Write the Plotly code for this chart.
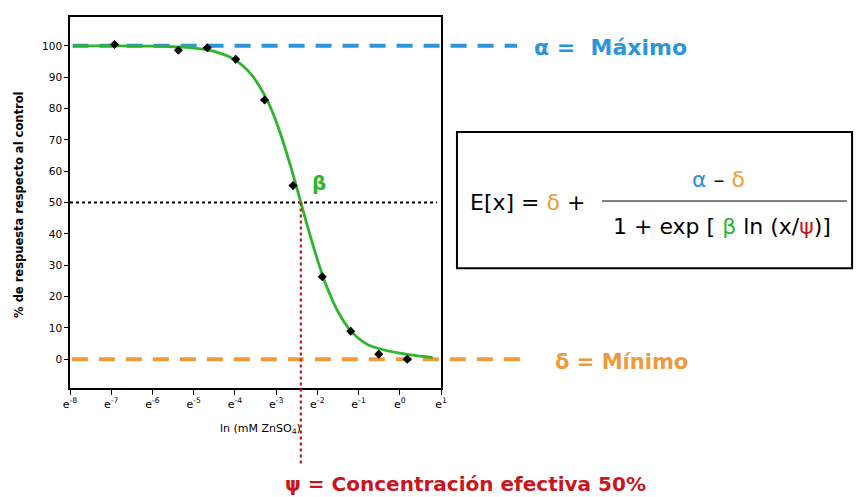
import plotly.graph_objects as go

# ---- data ----
ln_conc = [-6.92, -5.37, -4.67, -3.98, -3.28, -2.59, -1.88, -1.19, -0.51, 0.18]
response = [100.4, 98.6, 99.4, 95.7, 82.7, 55.4, 26.3, 8.9, 1.6, 0.0]

curve_x = [-7.93, -7.0, -6.0, -5.5, -5.0, -4.5, -4.0, -3.6, -3.2, -2.9, -2.6, -2.4,
           -2.2, -2.0, -1.8, -1.5, -1.2, -0.8, -0.4, 0.0, 0.4, 0.8]
curve_y = [100.0, 100.0, 99.9, 99.7, 99.3, 98.2, 95.5, 90.8, 82.2, 72.2, 59.4, 50.0,
           40.6, 31.8, 24.1, 15.2, 9.2, 4.8, 3.0, 1.9, 1.1, 0.5]

alpha_max = 100
delta_min = 0
half_resp = 50
psi_ln = -2.4

x_tick_vals = [-8, -7, -6, -5, -4, -3, -2, -1, 0, 1]
x_tick_text = ["e<sup>-8</sup>", "e<sup>-7</sup>", "e<sup>-6</sup>", "e<sup>-5</sup>",
               "e<sup>-4</sup>", "e<sup>-3</sup>", "e<sup>-2</sup>", "e<sup>-1</sup>",
               "e<sup>0</sup>", "e<sup>1</sup>"]
y_tick_vals = [0, 10, 20, 30, 40, 50, 60, 70, 80, 90, 100]

BLUE = "#2B95DB"
ORANGE = "#EE9A3A"
GREEN = "#2DB52D"
RED = "#C8161E"
FONT = "DejaVu Sans, Arial, sans-serif"

fig = go.Figure()
fig.add_trace(go.Scatter(x=curve_x, y=curve_y, mode="lines",
                         line=dict(color=GREEN, width=2.8, shape="spline"),
                         hoverinfo="skip", showlegend=False))
fig.add_trace(go.Scatter(x=ln_conc, y=response, mode="markers",
                         marker=dict(symbol="diamond", size=7, color="black"), showlegend=False))

shapes = [
    dict(type="line", xref="paper", yref="y", x0=0.007, x1=1.205, y0=alpha_max, y1=alpha_max,
         line=dict(color=BLUE, width=4, dash="16px,11px"), layer="below"),
    dict(type="line", xref="paper", yref="y", x0=0.005, x1=1.213, y0=delta_min, y1=delta_min,
         line=dict(color=ORANGE, width=4, dash="16px,11px"), layer="below"),
    dict(type="line", xref="paper", yref="y", x0=0.0, x1=0.989, y0=half_resp, y1=half_resp,
         line=dict(color="black", width=2, dash="dot"), layer="below"),
    dict(type="line", xref="x", yref="paper", x0=psi_ln, x1=psi_ln, y0=0.5, y1=-0.2075,
         line=dict(color=RED, width=2.2, dash="dot")),
    # formula box
    dict(type="rect", xref="paper", yref="paper", x0=1.043, x1=2.108, y0=0.323, y1=0.690,
         line=dict(color="black", width=2)),
    dict(type="line", xref="paper", yref="paper", x0=1.434, x1=2.094, y0=0.504, y1=0.504,
         line=dict(color="black", width=1)),
]

ann = [
    dict(xref="paper", yref="y", x=1.245, y=alpha_max - 0.5, xanchor="left", yanchor="middle",
         text="<b>α =  Máximo</b>", font=dict(color=BLUE, size=22, family=FONT), showarrow=False),
    dict(xref="paper", yref="y", x=1.302, y=delta_min - 1.0, xanchor="left", yanchor="middle",
         text="<b>δ = Mínimo</b>", font=dict(color=ORANGE, size=21, family=FONT), showarrow=False),
    dict(xref="paper", yref="paper", x=1.067, y=-0.259, xanchor="center", yanchor="middle",
         text="<b>ψ = Concentración efectiva 50%</b>", font=dict(color=RED, size=20, family=FONT),
         showarrow=False),
    dict(xref="x", yref="y", x=-1.97, y=56.2, xanchor="center", yanchor="middle",
         text="<b>β</b>", font=dict(color=GREEN, size=20, family=FONT), showarrow=False),
    dict(xref="paper", yref="paper", x=1.073, y=0.4987, xanchor="left", yanchor="middle",
         text="E[x] = <span style='color:%s'>δ</span> +" % ORANGE,
         font=dict(color="black", size=22, family=FONT), showarrow=False),
    dict(xref="paper", yref="paper", x=1.747, y=0.561, xanchor="center", yanchor="middle",
         text="<span style='color:%s'>α</span> – <span style='color:%s'>δ</span>" % (BLUE, ORANGE),
         font=dict(color="black", size=22, family=FONT), showarrow=False),
    dict(xref="paper", yref="paper", x=1.757, y=0.434, xanchor="center", yanchor="middle",
         text="1 + exp [ <span style='color:%s'>β</span> ln (x/<span style='color:%s'>ψ</span>)]" % (GREEN, RED),
         font=dict(color="black", size=22, family=FONT), showarrow=False),
    dict(xref="paper", yref="paper", x=-0.138, y=0.493, xanchor="center", yanchor="middle",
         text="<b>% de respuesta respecto al control</b>", textangle=-90,
         font=dict(color="black", size=11.5, family=FONT), showarrow=False),
    dict(xref="paper", yref="paper", x=0.514, y=-0.11, xanchor="center", yanchor="middle",
         text="ln (mM ZnSO<sub>4</sub>)", font=dict(color="black", size=11, family=FONT), showarrow=False),
]

fig.update_layout(
    width=857, height=497, margin=dict(l=70, r=416, t=17, b=109),
    paper_bgcolor="white", plot_bgcolor="white",
    shapes=shapes, annotations=ann, showlegend=False,
    font=dict(family=FONT, color="black"),
)
fig.update_xaxes(range=[-8, 1], tickvals=x_tick_vals, ticktext=x_tick_text,
                 showgrid=False, zeroline=False, showline=True, linecolor="black", linewidth=1.5,
                 mirror=True, ticks="outside", ticklen=5, tickcolor="black",
                 tickfont=dict(size=11, family=FONT, color="black"))
fig.update_yaxes(range=[-9.2, 109.2], tickvals=y_tick_vals,
                 showgrid=False, zeroline=False, showline=True, linecolor="black", linewidth=1.5,
                 mirror=True, ticks="outside", ticklen=4, tickcolor="black",
                 tickfont=dict(size=10.5, family=FONT, color="black"))

fig.write_html("out.html", config={"displayModeBar": False},
               post_script="document.body.style.margin='0';document.body.style.overflow='hidden';")
